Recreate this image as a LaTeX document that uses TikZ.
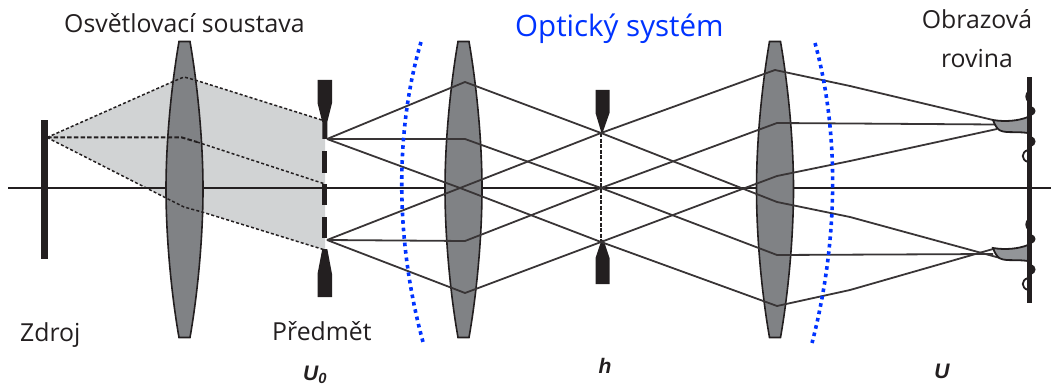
\documentclass[tikz,border=0pt]{standalone}
\usepackage{fontspec}
\setmainfont{Open Sans}
\newfontfamily\lblfont{Liberation Sans}
\definecolor{ink}{HTML}{231F20}
\definecolor{lensgrey}{HTML}{808285}
\definecolor{beam}{HTML}{D1D3D4}
\definecolor{spotgrey}{HTML}{939598}
\definecolor{optblue}{HTML}{0033FF}
\tikzset{
  ray/.style={draw=ink!90,line width=1.8pt},
  axisline/.style={draw=ink,line width=2pt},
  lens/.style={draw=ink,line width=1.6pt,fill=lensgrey},
  solid black/.style={fill=ink,draw=none},
  beamedge/.style={draw=ink,line width=1.5pt,dash pattern=on 3pt off 2.2pt},
  beamaxis/.style={draw=ink,line width=2pt,dash pattern=on 4.5pt off 2.2pt},
  wave/.style={draw=optblue,line width=3.6pt,dash pattern=on 3.6pt off 3.9pt},
  caption/.style={inner sep=0pt,font=\fontsize{24.8}{28}\selectfont,text=ink},
  mathlabel/.style={inner sep=0pt,font=\lblfont\bfseries\itshape\fontsize{21}{24}\selectfont,text=ink},
}
\newcommand{\lensat}[1]{%
  \path[lens] (#1-5.5,41.5) -- (#1+5.5,41.5)
    .. controls (#1+13,85) and (#1+18.5,140) .. (#1+18.5,189)
    .. controls (#1+18.5,238) and (#1+13,295) .. (#1+5.5,337.5)
    -- (#1-5.5,337.5)
    .. controls (#1-13,295) and (#1-18.5,238) .. (#1-18.5,189)
    .. controls (#1-18.5,140) and (#1-13,85) .. cycle;}
\newcommand{\spot}[1]{%
  \begin{scope}[yshift=-#1pt]
  \path[fill=spotgrey,draw=ink,line width=1.8pt] (993,120) .. controls (1005,122) and (1018,121) .. (1028,117)
     -- (1028,133) .. controls (1015,131) and (1003,134) .. (998,129)
     .. controls (996,127) and (994,123) .. cycle;
  \path[solid black] (1029,90) .. controls (1024,93) and (1024,100) .. (1029,103) -- cycle;
  \path[solid black] (1031,106) .. controls (1037,108) and (1037,114) .. (1031,116) -- cycle;
  \path[solid black] (1031,136) .. controls (1037,138) and (1037,145) .. (1031,147) -- cycle;
  \draw[ink,line width=1.8pt] (1028,150) .. controls (1021,152) and (1021,160) .. (1028,162);
  \end{scope}}
\begin{document}
\begin{tikzpicture}[x=1pt,y=-1pt]
\useasboundingbox (0,0) rectangle (1051,387);
% named points
\coordinate (src) at (47,137.5);
\coordinate (ou) at (327,139);
\coordinate (ol) at (327,240);
\coordinate (a1) at (465,82);
\coordinate (a2) at (465,139);
\coordinate (a3) at (460,188);
\coordinate (a4) at (465,241);
\coordinate (a5) at (465,293);
\coordinate (su) at (601,133);
\coordinate (sm) at (601,188);
\coordinate (sl) at (601,242);
\coordinate (b1) at (775,70);
\coordinate (b2) at (777,123);
\coordinate (b3) at (777,176);
\coordinate (b4) at (777,202);
\coordinate (b5) at (777,255);
\coordinate (b6) at (777,306);
% beam
\path[fill=beam] (src) -- (172,82) -- (184,77) -- (195,80) -- (325,121) -- (325,250) -- (202,212) -- (184,207) -- (168,199) -- cycle;
% axis
\draw[axisline] (8,188) -- (1051,188);
% source
\path[solid black] (41,120) rectangle (48,259);
% lenses
\lensat{184.5}
\lensat{463.5}
\lensat{775}
% illumination rays
\draw[beamedge] (src) -- (172,82) -- (184,77) -- (195,80) -- (325,121);
\draw[beamaxis] (src) -- (182,137.5) -- (197,142);
\draw[beamedge] (197,142) -- (325,184);
\draw[beamedge] (src) -- (168,199) -- (184,207) -- (202,212) -- (325,250);
% object
\path[solid black] (317.5,80) -- (332,80) -- (332,103) -- (327.3,122) -- (327.3,139) -- (322.3,139) -- (322.3,122) -- (317.5,103) -- cycle;
\path[solid black] (322.3,151) rectangle (327.3,173);
\path[solid black] (322.3,184) rectangle (327.3,205);
\path[solid black] (322.3,217) rectangle (327.3,238);
\path[solid black] (322.3,249) -- (327.3,249) -- (332,274) -- (332,297) -- (317.5,297) -- (317.5,274) -- cycle;
% stop
\path[solid black] (595.5,90) -- (609.5,90) -- (609.5,113) -- (602.5,133) -- (601.5,133) -- (595.5,113) -- cycle;
\path[solid black] (601.5,240) -- (603.5,240) -- (609.5,258) -- (609.5,284) -- (595.5,284) -- (595.5,258) -- cycle;
\draw[ink,line width=1.4pt,dash pattern=on 4pt off 1.6pt] (su) -- (sl);
% rays
\draw[ray] (ou) -- (a1) -- (su) -- (b4) -- (850,217) -- (1000,258);
\draw[ray] (ou) -- (a2) -- (sm) -- (b5) -- (993,254);
\draw[ray] (ou) -- (a3) -- (sl) -- (b6) -- (850,290) -- (993,249);
\draw[ray] (ol) -- (a3) -- (su) -- (b1) -- (850,86) -- (993,120);
\draw[ray] (ol) -- (a4) -- (sm) -- (b2) -- (995,124.5);
\draw[ray] (ol) -- (a5) -- (sl) -- (b3) -- (850,161) -- (997,129);
% image plane
\spot{0}
\spot{128}
\path[solid black] (1027,77) rectangle (1032,303);
% waves
\draw[wave] (421,42) .. controls (395,130) and (395,240) .. (423,342);
\draw[wave] (815,43) .. controls (839,130) and (839,240) .. (812,343);
% text
\node[caption,anchor=base west] (t1) at (64,33) {Osvětlovací soustava};
\node[caption,anchor=base west,text=optblue,font=\fontsize{29.5}{33}\selectfont] (t2) at (515,37) {Optický systém};
\node[caption,anchor=base] (t3) at (977,29) {Obrazová};
\node[caption,anchor=base] (t4) at (977,68) {rovina};
\node[caption,anchor=base west] (t5) at (20,341) {Zdroj};
\node[caption,anchor=base west] (t6) at (272,340) {Předmět};
\node[mathlabel,anchor=base west] (u0) at (303,380) {U\textsubscript{0}};
\node[mathlabel] (h) at (605,366) {h};
\node[mathlabel,anchor=base] (u) at (942,378) {U};
\end{tikzpicture}
\end{document}
